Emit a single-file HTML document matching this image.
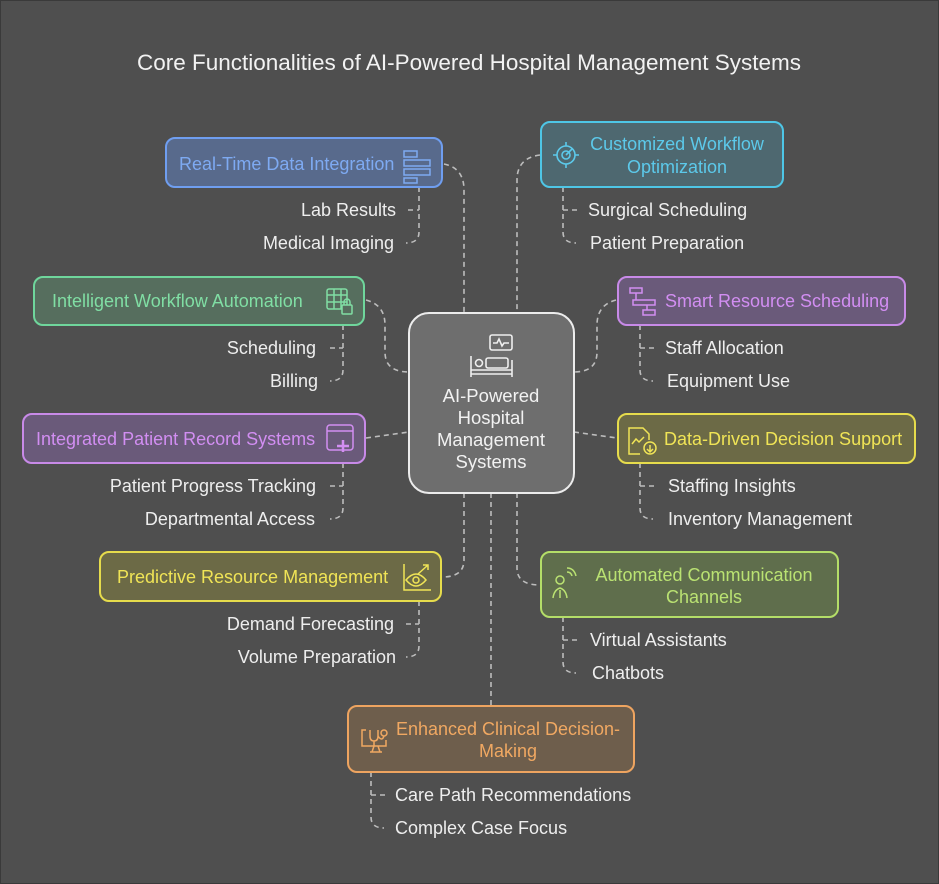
<!DOCTYPE html>
<html><head><meta charset="utf-8"><style>
html,body{margin:0;padding:0;background:#4f4f4f;}
svg{display:block;}
text{font-family:"Liberation Sans",sans-serif;}
</style></head><body>
<svg width="939" height="884" viewBox="0 0 939 884" xmlns="http://www.w3.org/2000/svg">
<rect x="0" y="0" width="939" height="884" fill="#4f4f4f" stroke="#3a3a3a" stroke-width="2"/>
<text x="469" y="70" text-anchor="middle" font-size="22.5" fill="#f2f2f2">Core Functionalities of AI-Powered Hospital Management Systems</text>

<g fill="none" stroke="#bdbdbd" stroke-width="1.6" stroke-dasharray="5,4">
 <path d="M444 164 Q464 168 464 190 L464 313"/>
 <path d="M540 155 Q517 158 517 180 L517 313"/>
 <path d="M366 300 Q385 305 385 325 L385 352 Q385 372 409 372"/>
 <path d="M616 300 Q597 305 597 325 L597 352 Q597 372 574 372"/>
 <path d="M366 438 L409 432"/>
 <path d="M574 432 L617 438"/>
 <path d="M464 493 L464 560 Q464 577 442 577"/>
 <path d="M517 493 L517 568 Q517 585 540 585"/>
 <path d="M491 493 L491 706"/>
 <path d="M419 187 L419 232 Q419 243 406 243 M408 210 L419 210"/>
 <path d="M563 187 L563 232 Q563 243 576 243 M563 210 L578 210"/>
 <path d="M343 325 L343 370 Q343 381 330 381 M330 348 L343 348"/>
 <path d="M640 325 L640 370 Q640 381 653 381 M640 348 L655 348"/>
 <path d="M343 463 L343 508 Q343 519 330 519 M330 486 L343 486"/>
 <path d="M640 463 L640 508 Q640 519 653 519 M640 486 L655 486"/>
 <path d="M419 601 L419 646 Q419 657 406 657 M406 624 L419 624"/>
 <path d="M563 617 L563 662 Q563 673 576 673 M563 640 L578 640"/>
 <path d="M371 772 L371 817 Q371 828 384 828 M371 795 L386 795"/>
</g>

<rect x="409" y="313" width="165" height="180" rx="20" fill="#6e6e6e" stroke="#ececec" stroke-width="2"/>
<g fill="none" stroke="#eee" stroke-width="1.6">
 <rect x="490" y="335" width="22" height="15" rx="2"/>
 <path d="M493 343 l4 0 l2 -4 l3 7 l2 -3 l5 0"/>
 <path d="M471 356 L471 377 M471 370 L512 370 M512 360 L512 377 M471 374 L512 374"/>
 <circle cx="479" cy="363" r="3.5"/>
 <rect x="486" y="358" width="22" height="10" rx="2"/>
</g>
<g font-size="18.5" fill="#f2f2f2" text-anchor="middle">
 <text x="491" y="402">AI-Powered</text>
 <text x="491" y="424">Hospital</text>
 <text x="491" y="446">Management</text>
 <text x="491" y="468">Systems</text>
</g>

<rect x="166" y="138" width="276" height="49" rx="9" fill="#586a8c" stroke="#6f9ef0" stroke-width="2"/>
<text x="179" y="170" font-size="18" fill="#7eaaf2">Real-Time Data Integration</text>
<g fill="none" stroke="#7eaaf2" stroke-width="1.5"><rect x="404" y="151" width="13" height="6"/><rect x="404" y="160" width="26" height="6"/><rect x="404" y="169" width="26" height="6"/><rect x="404" y="178" width="13" height="5"/></g>

<rect x="541" y="122" width="242" height="65" rx="9" fill="#4e6870" stroke="#4ec6e6" stroke-width="2"/>
<g font-size="18" fill="#5cc9ea" text-anchor="middle"><text x="677" y="150">Customized Workflow</text><text x="677" y="173">Optimization</text></g>
<g fill="none" stroke="#5cc9ea" stroke-width="1.6"><circle cx="566" cy="155" r="9"/><circle cx="566" cy="155" r="4"/><path d="M566 142v4M566 164v4M553 155h4M575 155h4M566 155l6-6"/></g>

<rect x="34" y="277" width="330" height="48" rx="9" fill="#566e5e" stroke="#6fd69c" stroke-width="2"/>
<text x="52" y="307" font-size="18" fill="#80dea4">Intelligent Workflow Automation</text>
<g fill="none" stroke="#80dea4" stroke-width="1.5"><rect x="327" y="289" width="20" height="20" rx="2"/><path d="M327 295h20M327 302h20M334 289v20M341 289v20"/><rect x="342" y="305" width="10" height="9" rx="1" fill="#566e5e"/><path d="M344 305v-3a3 3 0 0 1 6 0v3"/></g>

<rect x="618" y="277" width="287" height="48" rx="9" fill="#6a5a7a" stroke="#c88ae8" stroke-width="2"/>
<text x="665" y="307" font-size="18" fill="#d28ef2">Smart Resource Scheduling</text>
<g fill="none" stroke="#d28ef2" stroke-width="1.5"><rect x="630" y="288" width="12" height="5"/><rect x="633" y="300" width="22" height="5"/><rect x="643" y="310" width="12" height="5"/><path d="M636 293v7M647 305v5"/></g>

<rect x="23" y="414" width="342" height="49" rx="9" fill="#6a5a7a" stroke="#c88ae8" stroke-width="2"/>
<text x="36" y="445" font-size="18" fill="#d28ef2">Integrated Patient Record Systems</text>
<g fill="none" stroke="#d28ef2" stroke-width="1.5"><rect x="327" y="425" width="26" height="25" rx="3"/><path d="M327 431h26"/><path d="M343 440v12M337 446h12" stroke-width="2.5"/></g>

<rect x="618" y="414" width="297" height="49" rx="9" fill="#6c6a46" stroke="#e6dc4c" stroke-width="2"/>
<text x="664" y="445" font-size="18" fill="#f0e456">Data-Driven Decision Support</text>
<g fill="none" stroke="#f0e456" stroke-width="1.5"><path d="M640 454h-11v-26h14l6 6v6"/><path d="M632 444l4-5 3 3 5-5"/><circle cx="650" cy="448" r="6"/><path d="M650 445v6M647 449l3 3 3-3"/></g>

<rect x="100" y="552" width="341" height="49" rx="9" fill="#6c6a46" stroke="#e6dc4c" stroke-width="2"/>
<text x="117" y="583" font-size="18" fill="#f0e456">Predictive Resource Management</text>
<g fill="none" stroke="#f0e456" stroke-width="1.5"><path d="M404 564v26h27"/><path d="M406 580q10-12 20 0q-10 12-20 0z"/><circle cx="416" cy="580" r="3"/><path d="M418 574l10-9M423 565h5v5"/></g>

<rect x="541" y="552" width="297" height="65" rx="9" fill="#5f6e4c" stroke="#b4de68" stroke-width="2"/>
<g font-size="18" fill="#bae272" text-anchor="middle"><text x="704" y="581">Automated Communication</text><text x="704" y="603">Channels</text></g>
<g fill="none" stroke="#bae272" stroke-width="1.5"><circle cx="560" cy="580" r="4"/><path d="M553 598q1-8 7-10q6 2 7 10M560 590v8"/><path d="M567 572q4 0 5 4M567 568q7 0 9 8"/></g>

<rect x="348" y="706" width="286" height="66" rx="9" fill="#6e5e4c" stroke="#eea460" stroke-width="2"/>
<g font-size="18" fill="#f0a862" text-anchor="middle"><text x="508" y="735">Enhanced Clinical Decision-</text><text x="508" y="757">Making</text></g>
<g fill="none" stroke="#f0a862" stroke-width="1.5"><path d="M366 730h-4v16h24v-6"/><path d="M370 730v6q0 5 4 5q4 0 4-5v-6M374 741v5"/><circle cx="384" cy="733" r="3"/><path d="M378 736q4 6 6 0"/><path d="M370 752h12M374 746l-2 6M378 746l2 6"/></g>

<g font-size="18" fill="#eeeeee">
 <g text-anchor="end">
  <text x="396" y="216">Lab Results</text>
  <text x="394" y="249">Medical Imaging</text>
  <text x="316" y="354">Scheduling</text>
  <text x="318" y="387">Billing</text>
  <text x="316" y="492">Patient Progress Tracking</text>
  <text x="315" y="525">Departmental Access</text>
  <text x="394" y="630">Demand Forecasting</text>
  <text x="396" y="663">Volume Preparation</text>
 </g>
 <text x="588" y="216">Surgical Scheduling</text>
 <text x="590" y="249">Patient Preparation</text>
 <text x="665" y="354">Staff Allocation</text>
 <text x="667" y="387">Equipment Use</text>
 <text x="668" y="492">Staffing Insights</text>
 <text x="668" y="525">Inventory Management</text>
 <text x="590" y="646">Virtual Assistants</text>
 <text x="592" y="679">Chatbots</text>
 <text x="395" y="801">Care Path Recommendations</text>
 <text x="395" y="834">Complex Case Focus</text>
</g>
</svg>
</body></html>
